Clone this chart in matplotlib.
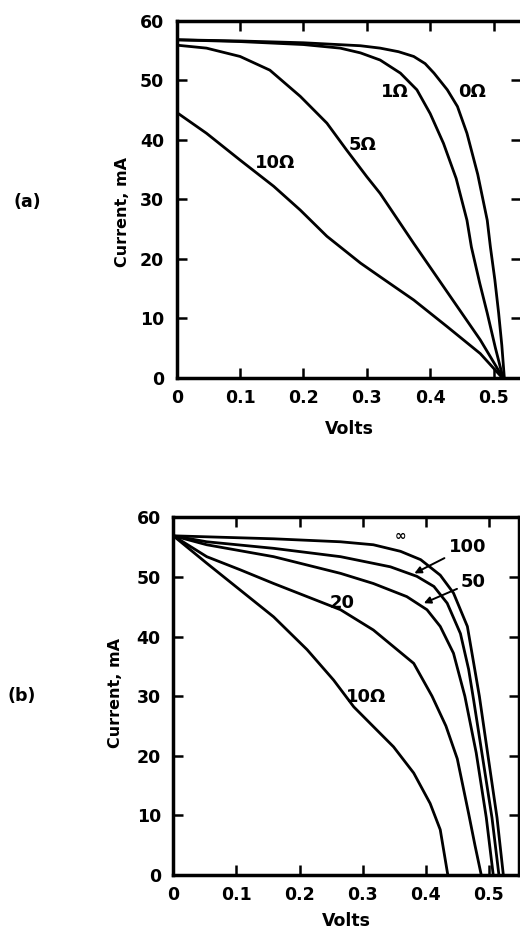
import matplotlib
matplotlib.use("Agg")
import matplotlib.pyplot as plt

plt.rcParams["font.family"] = ["DejaVu Sans"]
plt.rcParams["font.weight"] = "bold"

# (a) series resistance curves: volts, current in mA
a_labels = ["0Ω", "1Ω", "5Ω", "10Ω"]
a_v = [
    [0, 0.10, 0.20, 0.29, 0.321, 0.35, 0.374, 0.392, 0.406, 0.427, 0.443, 0.458,
     0.475, 0.49, 0.495, 0.502, 0.508, 0.513, 0.517],
    [0, 0.10, 0.20, 0.258, 0.29, 0.321, 0.353, 0.379, 0.40, 0.421, 0.441, 0.458,
     0.465, 0.478, 0.49, 0.503, 0.515],
    [0, 0.047, 0.10, 0.147, 0.195, 0.237, 0.268, 0.30, 0.321, 0.374, 0.42, 0.479, 0.515],
    [0, 0.047, 0.10, 0.153, 0.195, 0.237, 0.29, 0.321, 0.374, 0.427, 0.479, 0.514],
]
a_i = [
    [56.8, 56.6, 56.3, 55.8, 55.4, 54.8, 54.0, 52.8, 51.2, 48.4, 45.6, 41.1,
     34.2, 26.5, 22.0, 16.5, 10.9, 5.5, 0],
    [56.8, 56.5, 56.0, 55.4, 54.6, 53.4, 51.2, 48.4, 44.4, 39.4, 33.5, 26.5,
     22.0, 16.0, 10.9, 5.0, 0],
    [55.9, 55.4, 54.0, 51.7, 47.3, 42.8, 38.3, 33.8, 31.0, 22.6, 15.5, 6.4, 0],
    [44.6, 41.1, 36.6, 32.2, 28.2, 23.8, 19.3, 17.0, 13.1, 8.6, 4.1, 0],
]

# (b) shunt resistance curves
b_labels = ["∞", "100", "50", "20", "10Ω"]
b_v = [
    [0, 0.159, 0.265, 0.317, 0.36, 0.392, 0.423, 0.444, 0.466, 0.485, 0.498, 0.513, 0.523],
    [0, 0.053, 0.159, 0.265, 0.344, 0.386, 0.413, 0.434, 0.455, 0.468, 0.476, 0.49, 0.505, 0.516],
    [0, 0.053, 0.159, 0.265, 0.317, 0.37, 0.402, 0.423, 0.444, 0.462, 0.48, 0.496, 0.507],
    [0, 0.053, 0.106, 0.159, 0.212, 0.265, 0.317, 0.349, 0.381, 0.41, 0.432, 0.45, 0.468, 0.478, 0.488],
    [0, 0.053, 0.106, 0.159, 0.212, 0.254, 0.286, 0.317, 0.349, 0.381, 0.407, 0.423, 0.435],
]
b_i = [
    [56.9, 56.4, 55.9, 55.4, 54.3, 52.9, 50.3, 47.3, 41.7, 30.0, 20.5, 9.6, 0],
    [56.9, 55.9, 54.8, 53.4, 51.7, 50.1, 48.4, 45.6, 40.5, 34.5, 29.3, 19.8, 9.6, 0],
    [56.9, 55.4, 53.4, 50.6, 48.9, 46.7, 44.5, 41.7, 37.2, 30.0, 20.5, 9.6, 0],
    [56.9, 53.4, 51.2, 48.9, 46.7, 44.5, 41.1, 38.3, 35.5, 30.0, 25.0, 19.5, 10.3, 5.0, 0],
    [56.9, 52.3, 47.8, 43.3, 37.8, 32.7, 28.2, 24.9, 21.5, 17.1, 12.0, 7.6, 0],
]

xticks = [0, 0.1, 0.2, 0.3, 0.4, 0.5]
xticklabels = ["0", "0.1", "0.2", "0.3", "0.4", "0.5"]
yticks = [0, 10, 20, 30, 40, 50, 60]

fig = plt.figure(figsize=(5.2, 9.34), dpi=100)
ax1 = fig.add_axes([0.3398, 0.5953, 0.663, 0.3825])
ax2 = fig.add_axes([0.3333, 0.0632, 0.665, 0.3829])


def style(ax, xmax, xlab_y, ylab_x, ylab_y):
    ax.set_xlim(0, xmax)
    ax.set_ylim(0, 60)
    ax.set_xticks(xticks)
    ax.set_xticklabels(xticklabels)
    ax.set_yticks(yticks)
    ax.tick_params(direction="in", length=7, width=1.8, top=True, right=True,
                   labelsize=12.5)
    ax.tick_params(axis="x", pad=8)
    ax.tick_params(axis="y", pad=9)
    for s in ax.spines.values():
        s.set_linewidth(2.5)
    ax.set_xlabel("Volts", fontsize=12.5, fontweight="bold")
    ax.xaxis.set_label_coords(0.5, xlab_y)
    ax.set_ylabel("Current, mA", fontsize=11.5, fontweight="bold")
    ax.yaxis.set_label_coords(ylab_x, ylab_y)


for v, i in zip(a_v, a_i):
    ax1.plot(v, i, color="black", lw=2.0, solid_joinstyle="round")
style(ax1, 0.544, -0.118, -0.135, 0.465)
ax1.text(0.466, 48.1, a_labels[0], fontsize=13, ha="center", va="center")
ax1.text(0.345, 48.0, a_labels[1], fontsize=13, ha="center", va="center")
ax1.text(0.293, 39.1, a_labels[2], fontsize=13, ha="center", va="center")
ax1.text(0.156, 36.1, a_labels[3], fontsize=13, ha="center", va="center")

for v, i in zip(b_v, b_i):
    ax2.plot(v, i, color="black", lw=2.0, solid_joinstyle="round")
style(ax2, 0.548, -0.104, -0.145, 0.51)
ax2.text(0.36, 56.9, b_labels[0], fontsize=10, ha="center", va="center")
ax2.annotate(b_labels[1], xy=(0.382, 50.6), xytext=(0.436, 55.1),
             fontsize=13, va="center", ha="left",
             arrowprops=dict(arrowstyle="-|>", color="black", lw=1.4,
                             mutation_scale=10, shrinkA=1, shrinkB=0))
ax2.annotate(b_labels[2], xy=(0.397, 45.6), xytext=(0.456, 49.2),
             fontsize=13, va="center", ha="left",
             arrowprops=dict(arrowstyle="-|>", color="black", lw=1.4,
                             mutation_scale=10, shrinkA=1, shrinkB=0))
ax2.text(0.267, 45.6, b_labels[3], fontsize=13, ha="center", va="center")
ax2.text(0.305, 29.9, b_labels[4], fontsize=13, ha="center", va="center")

fig.text(27 / 520, 1 - 202 / 934, "(a)", fontsize=12.5, fontweight="bold", ha="center", va="center")
fig.text(22 / 520, 1 - 696 / 934, "(b)", fontsize=12.5, fontweight="bold", ha="center", va="center")

fig.savefig("out.png", dpi=100)
